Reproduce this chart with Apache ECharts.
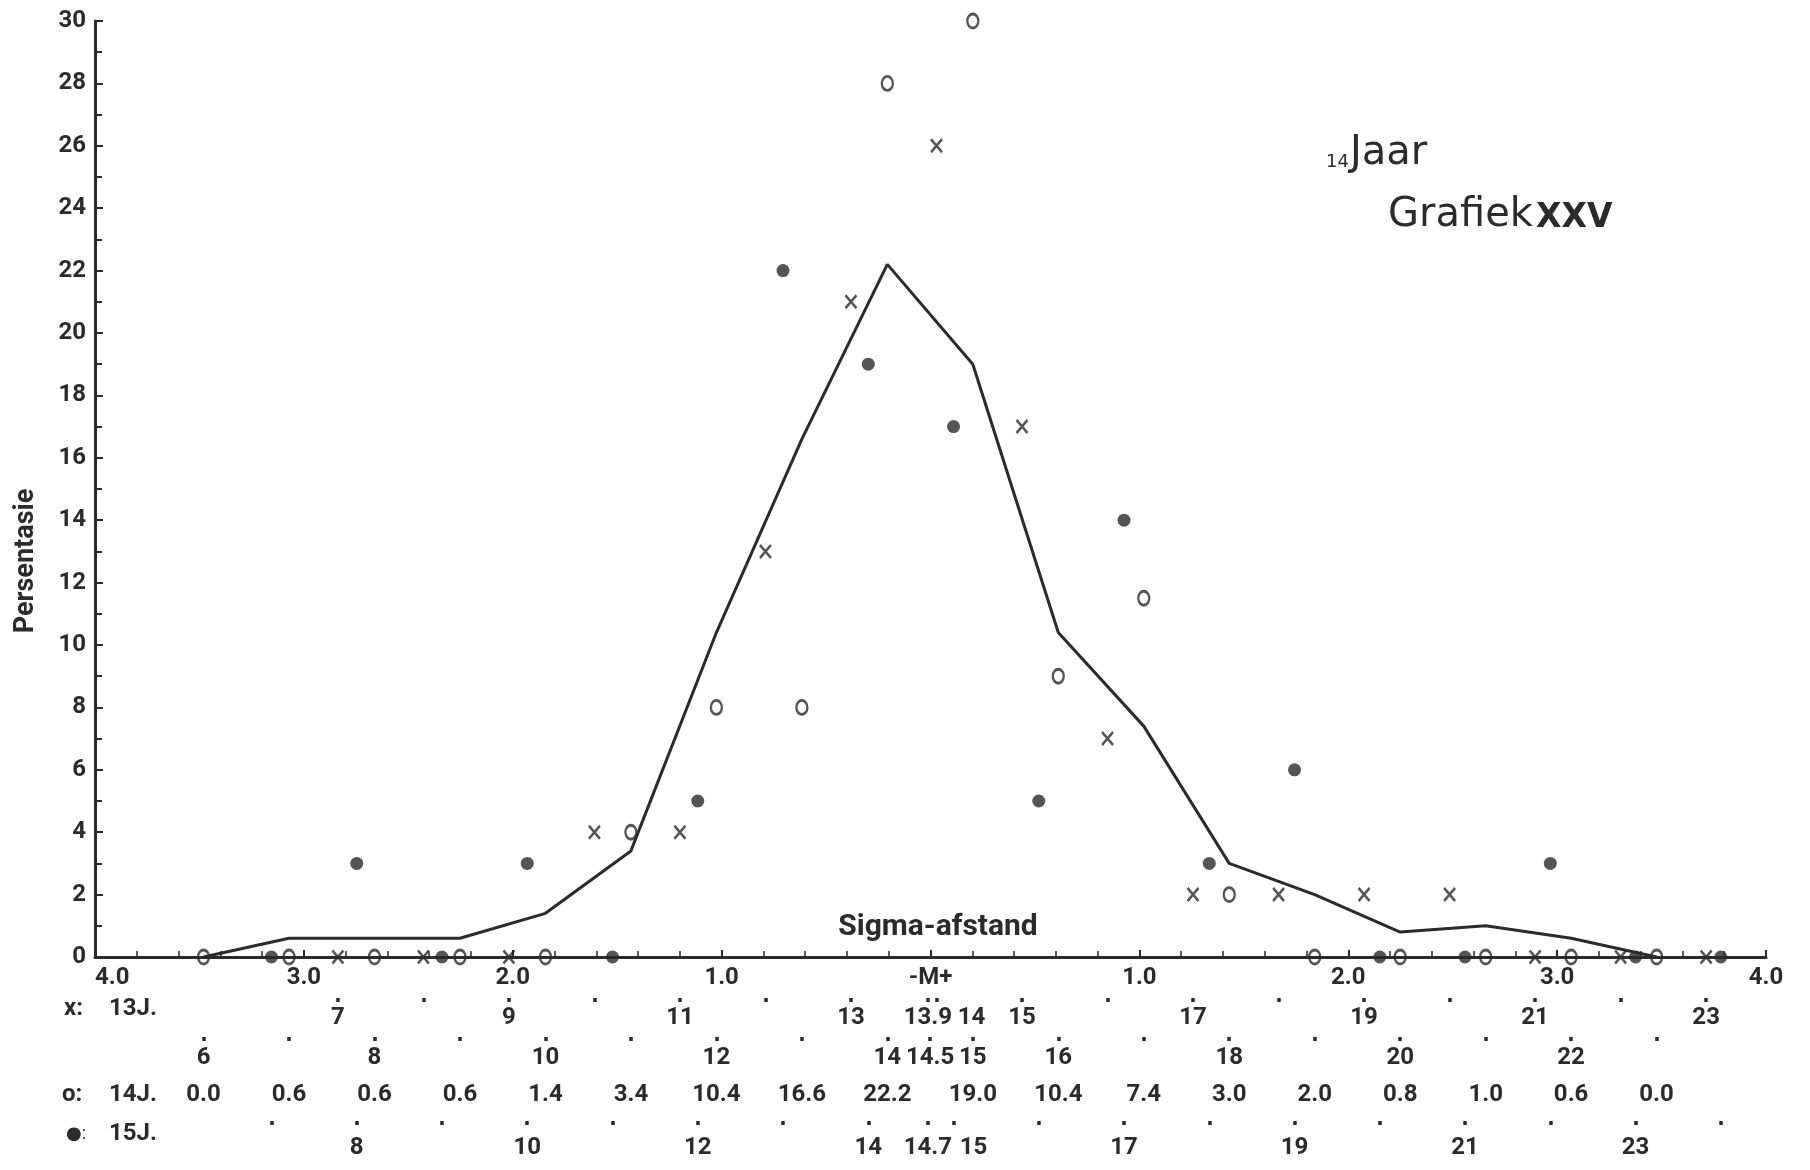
<!DOCTYPE html>
<html>
<head>
<meta charset="utf-8">
<title>Grafiek XXV</title>
<script src="https://cdn.jsdelivr.net/npm/echarts@6/dist/echarts.min.js"></script>
<style>
  html, body { margin: 0; padding: 0; background: #fff; }
  #chart { width: 1810px; height: 1170px; }
</style>
</head>
<body>
<div id="chart"></div>
<script>
// 13 jaar (x)
const classes13 = [7, 8, 9, 10, 11, 12, 13, 14, 15, 16, 17, 18, 19, 20, 21, 22, 23];
const pct13 = [0, 0, 0, 4, 4, 13, 21, 26, 17, 7, 2, 2, 2, 2, 0, 0, 0];
// 14 jaar (o) + lyn
const classes14 = [6, 7, 8, 9, 10, 11, 12, 13, 14, 15, 16, 17, 18, 19, 20, 21, 22, 23];
const pct14 = [0, 0, 0, 0, 0, 4, 8, 8, 28, 30, 9, 11.5, 2, 0, 0, 0, 0, 0];
const line14 = [0.0, 0.6, 0.6, 0.6, 1.4, 3.4, 10.4, 16.6, 22.2, 19.0, 10.4, 7.4, 3.0, 2.0, 0.8, 1.0, 0.6, 0.0];
// 15 jaar (•)
const classes15 = [7, 8, 9, 10, 11, 12, 13, 14, 15, 16, 17, 18, 19, 20, 21, 22, 23, 24];
const pct15 = [0, 3, 0, 3, 0, 5, 22, 19, 17, 5, 14, 3, 6, 0, 0, 3, 0, 0];

// skale onder die as
const dots13 = [7, 8, 9, 10, 11, 12, 13, 13.9, 14, 15, 16, 17, 18, 19, 20, 21, 22, 23];
const labels13 = [7, 9, 11, 13, 13.9, 14, 15, 17, 19, 21, 23];
const dots14 = [6, 7, 8, 9, 10, 11, 12, 13, 14, 14.5, 15, 16, 17, 18, 19, 20, 21, 22, 23];
const labels14 = [6, 8, 10, 12, 14, 14.5, 15, 16, 18, 20, 22];
const dots15 = [7, 8, 9, 10, 11, 12, 13, 14, 14.7, 15, 16, 17, 18, 19, 20, 21, 22, 23, 24];
const labels15 = [8, 10, 12, 14, 14.7, 15, 17, 19, 21, 23];

const sigmaRange = [-4, 4];
const range13 = [4.16, 23.70];
const range14 = [4.73, 24.28];
const range15 = [4.93, 24.53];

const INK = '#2b2b2b';
const FONT = 'Roboto, "DejaVu Sans", sans-serif';
const TITLE_FONT = '"DejaVu Sans", sans-serif';

const chart = echarts.init(document.getElementById('chart'));

// label skuif regs as dit te na aan die vorige een staan
function crowdFmt(labels) {
  return function (v) {
    const i = labels.findIndex(x => Math.abs(x - v) < 1e-6);
    const t = String(v);
    return (i > 0 && v - labels[i - 1] < 0.35) ? '{s|' + t + '}' : t;
  };
}

function scaleAxis(range, offset, dots, labels, margin, fmt, shift) {
  return {
    type: 'value',
    gridIndex: 0,
    position: 'bottom',
    offset: offset,
    min: range[0],
    max: range[1],
    axisLine: { show: false, onZero: false },
    splitLine: { show: false },
    axisTick: dots
      ? { show: true, customValues: dots, length: 4, lineStyle: { width: 3.5, color: INK } }
      : { show: false },
    axisLabel: {
      customValues: labels,
      margin: margin,
      formatter: fmt,
      fontSize: 24,
      fontWeight: 'bold',
      color: INK,
      fontFamily: FONT,
      rich: { s: { padding: [0, 0, 0, shift || 0], fontSize: 24, fontWeight: 'bold', color: INK, fontFamily: FONT } }
    }
  };
}

const xSymbol = 'path://M0,0L10,12M10,0L0,12';
const oSymbol = 'path://M0,7A5,7,0,1,0,10,7A5,7,0,1,0,0,7Z';

const options = {
  animation: false,
  backgroundColor: '#fff',
  grid: { left: 95, right: 44, top: 21, bottom: 213, outerBoundsMode: 'none' },
  xAxis: [
    {
      type: 'value',
      gridIndex: 0,
      position: 'bottom',
      min: sigmaRange[0],
      max: sigmaRange[1],
      interval: 1,
      axisLine: { onZero: false, lineStyle: { color: INK, width: 3 } },
      axisTick: { inside: true, length: 7, lineStyle: { color: INK, width: 2 } },
      minorTick: { show: true, splitNumber: 5, length: 6, lineStyle: { color: INK, width: 1.5 } },
      splitLine: { show: false },
      axisLabel: {
        margin: 9,
        fontSize: 24,
        fontWeight: 'bold',
        color: INK,
        fontFamily: FONT,
        alignMinLabel: 'left',
        formatter: v => (v === 0 ? '-M+' : Math.abs(v).toFixed(1))
      }
    },
    scaleAxis(range13, 41, dots13, labels13, 8, crowdFmt(labels13), 70),
    scaleAxis(range14, 80, dots14, labels14, 9, crowdFmt(labels14), 0),
    scaleAxis(range14, 126, null, classes14, 0, v => {
      const i = classes14.findIndex(c => Math.abs(c - v) < 1e-6);
      return i < 0 ? '' : line14[i].toFixed(1);
    }),
    scaleAxis(range15, 164, dots15, labels15, 15, crowdFmt(labels15), 40)
  ],
  yAxis: {
    type: 'value',
    min: 0,
    max: 30,
    interval: 2,
    axisLine: { show: true, onZero: false, lineStyle: { color: INK, width: 3 } },
    axisTick: { show: true, inside: true, length: 8, lineStyle: { color: INK, width: 2 } },
    minorTick: { show: true, splitNumber: 2, length: 7, lineStyle: { color: INK, width: 2 } },
    splitLine: { show: false },
    axisLabel: { margin: 9, fontSize: 24, fontWeight: 'bold', color: INK, fontFamily: FONT }
  },
  graphic: [
    { type: 'text', x: 26, y: 561, rotation: Math.PI / 2,
      style: { text: 'Persentasie', fill: INK, fontSize: 27, fontWeight: 'bold', fontFamily: FONT, align: 'center', verticalAlign: 'middle' } },
    { type: 'text', x: 938, y: 927,
      style: { text: 'Sigma-afstand', fill: INK, fontSize: 30, fontWeight: 'bold', fontFamily: FONT, align: 'center', verticalAlign: 'middle' } },
    { type: 'text', x: 1326, y: 162,
      style: { text: '14', fill: INK, fontSize: 18, fontFamily: TITLE_FONT, align: 'left', verticalAlign: 'middle' } },
    { type: 'text', x: 1350, y: 154,
      style: { text: 'Jaar', fill: INK, fontSize: 40, fontFamily: TITLE_FONT, align: 'left', verticalAlign: 'middle' } },
    { type: 'text', x: 1388, y: 216,
      style: { text: 'Grafiek', fill: INK, fontSize: 40, fontFamily: TITLE_FONT, align: 'left', verticalAlign: 'middle' } },
    { type: 'text', x: 1536, y: 218,
      style: { text: 'XXV', fill: INK, fontSize: 33, fontWeight: 'bold', fontFamily: TITLE_FONT, align: 'left', verticalAlign: 'middle' } },
    { type: 'text', x: 64, y: 1009,
      style: { text: 'x:', fill: INK, fontSize: 24, fontWeight: 'bold', fontFamily: FONT, align: 'left', verticalAlign: 'middle' } },
    { type: 'text', x: 109, y: 1009,
      style: { text: '13J.', fill: INK, fontSize: 24, fontWeight: 'bold', fontFamily: FONT, align: 'left', verticalAlign: 'middle' } },
    { type: 'text', x: 62, y: 1095,
      style: { text: 'o:', fill: INK, fontSize: 24, fontWeight: 'bold', fontFamily: FONT, align: 'left', verticalAlign: 'middle' } },
    { type: 'text', x: 109, y: 1095,
      style: { text: '14J.', fill: INK, fontSize: 24, fontWeight: 'bold', fontFamily: FONT, align: 'left', verticalAlign: 'middle' } },
    { type: 'text', x: 66, y: 1134,
      style: { text: '●:', fill: INK, fontSize: 18, fontFamily: FONT, align: 'left', verticalAlign: 'middle' } },
    { type: 'text', x: 109, y: 1134,
      style: { text: '15J.', fill: INK, fontSize: 24, fontWeight: 'bold', fontFamily: FONT, align: 'left', verticalAlign: 'middle' } }
  ],
  series: [
    {
      name: '14J lyn',
      type: 'line',
      xAxisIndex: 2,
      yAxisIndex: 0,
      data: classes14.map((c, i) => [c, line14[i]]),
      symbol: 'none',
      lineStyle: { color: INK, width: 3 },
      z: 2
    },
    {
      name: '13J',
      type: 'scatter',
      xAxisIndex: 1,
      data: classes13.map((c, i) => [c, pct13[i]]),
      symbol: xSymbol,
      symbolSize: [11, 13],
      itemStyle: { color: 'rgba(0,0,0,0)', borderColor: INK, borderWidth: 2.6 },
      z: 3
    },
    {
      name: '14J',
      type: 'scatter',
      xAxisIndex: 2,
      data: classes14.map((c, i) => [c, pct14[i]]),
      symbol: oSymbol,
      symbolSize: [11, 14],
      itemStyle: { color: 'rgba(0,0,0,0)', borderColor: INK, borderWidth: 2.6 },
      z: 3
    },
    {
      name: '15J',
      type: 'scatter',
      xAxisIndex: 4,
      data: classes15.map((c, i) => [c, pct15[i]]),
      symbol: 'circle',
      symbolSize: 13,
      itemStyle: { color: INK },
      z: 3
    }
  ]
};

chart.setOption(options);
</script>
</body>
</html>
